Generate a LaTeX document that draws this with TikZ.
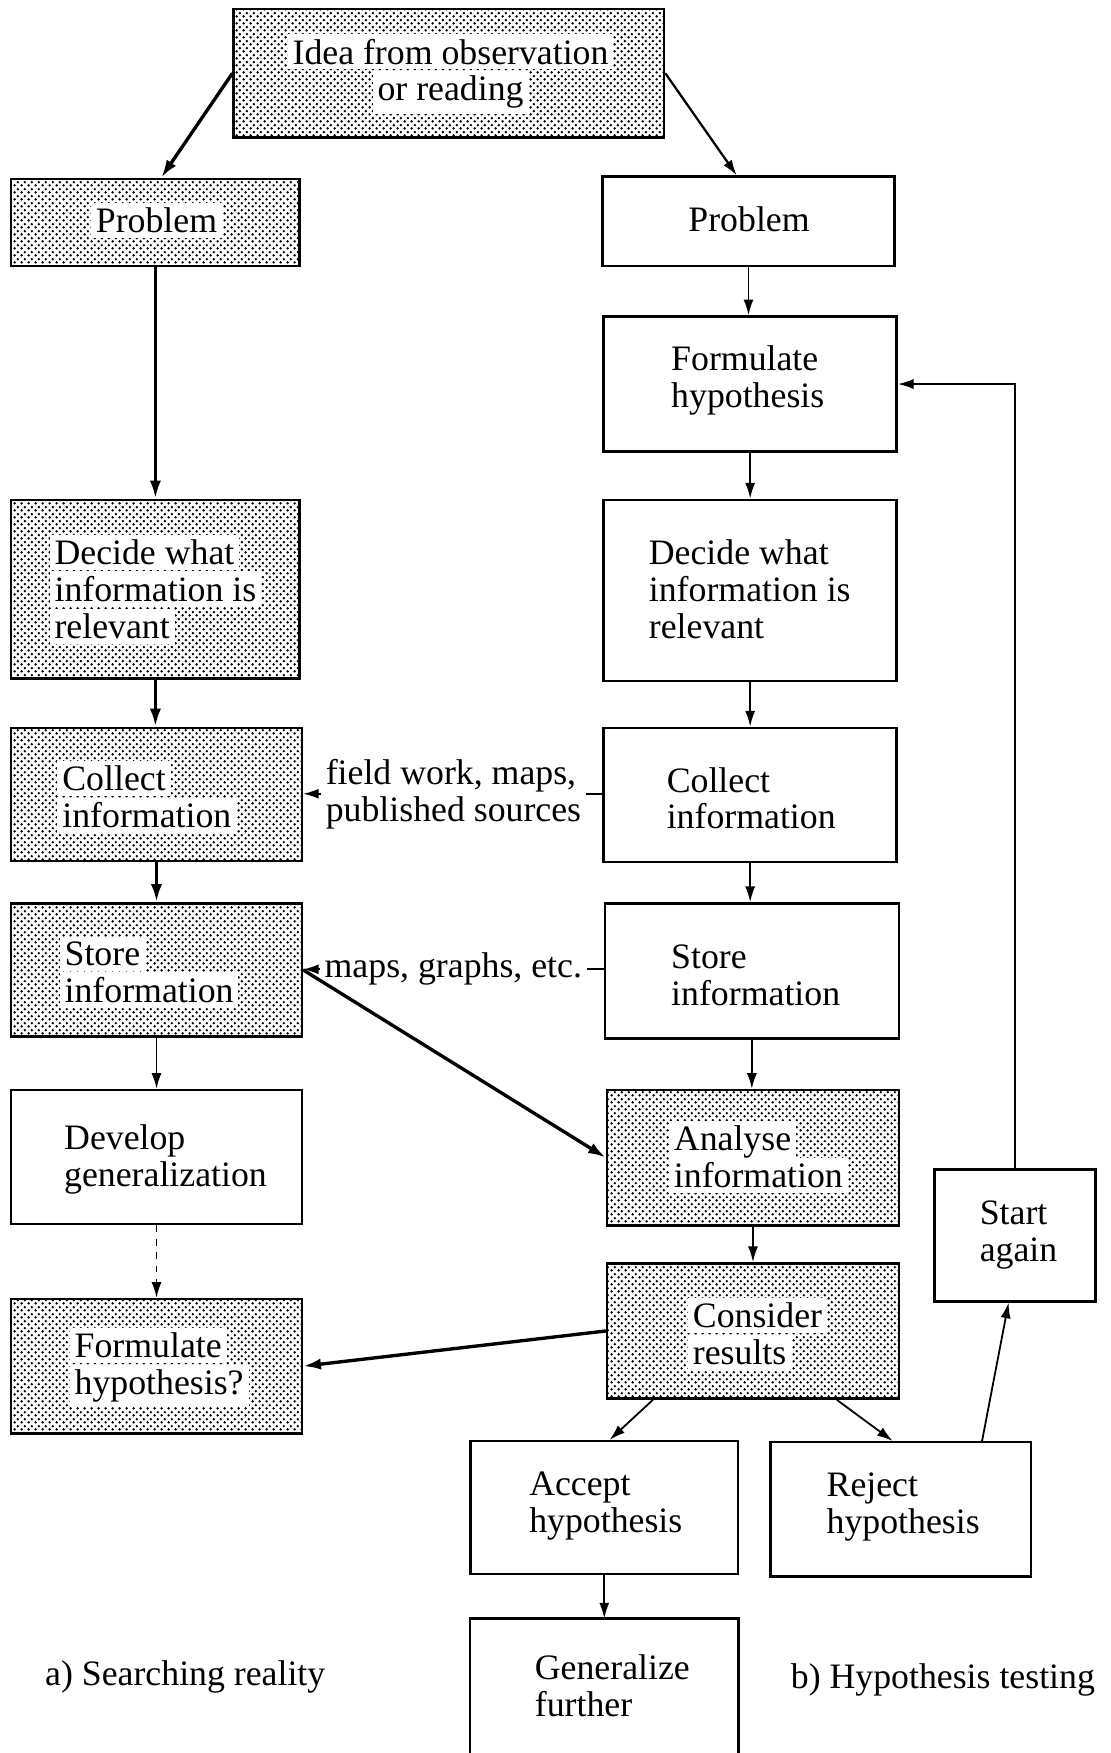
\documentclass[tikz,border=0pt]{standalone}
\usepackage{fontspec}
\setmainfont{Liberation Serif}
\usetikzlibrary{fit,calc,arrows.meta,patterns.meta}

\pgfdeclarepattern{
  name=refdots,
  type=uncolored,
  bottom left={\pgfpoint{0pt}{0pt}},
  top right={\pgfpoint{3pt}{3pt}},
  tile size={\pgfpoint{3pt}{3pt}},
  code={
    \pgfpathcircle{\pgfpoint{0.75pt}{0.75pt}}{0.62pt}
    \pgfpathcircle{\pgfpoint{2.25pt}{2.25pt}}{0.62pt}
    \pgfusepath{fill}
  }
}

\newcommand\bodyfont{\fontsize{16}{16.5}\selectfont\lineskiplimit=-20pt\relax}
\newcommand\wb[1]{{\setlength{\fboxsep}{2.2pt}\colorbox{white}{#1}}}

\begin{document}
\begin{tikzpicture}[x=0.5pt,y=-0.5pt,
  box/.style={draw, line width=1.1pt, inner sep=0pt},
  shaded/.style={box, pattern=refdots, pattern color=black},
  txt/.style={font=\bodyfont, align=left, inner sep=0pt, anchor=west},
  lbl/.style={font=\bodyfont, align=left, inner sep=2pt, anchor=west},
  arr/.style={-{Latex[length=7pt,width=4.5pt]}, line width=0.8pt},
  tarr/.style={-{Latex[length=8pt,width=5pt]}, line width=1.5pt},
]
\useasboundingbox[fill=white] (0,0) rectangle (993,1568);

% boxes
\node[shaded, fit={(209,8) (594,123)}] (idea) {};
\node[shaded, fit={(10,160) (268,238)}] (probL) {};
\node[box, fit={(539,158) (800,238)}] (probR) {};
\node[box, fit={(540,283) (802,404)}] (formR) {};
\node[shaded, fit={(10,447) (268,607)}] (decL) {};
\node[box, fit={(540,447) (802,609)}] (decR) {};
\node[shaded, fit={(10,651) (270,770)}] (colL) {};
\node[box, fit={(540,651) (802,771)}] (colR) {};
\node[shaded, fit={(10,808) (270,927)}] (stoL) {};
\node[box, fit={(541,808) (804,929)}] (stoR) {};
\node[box, fit={(10,975) (270,1095)}] (dev) {};
\node[shaded, fit={(543,975) (804,1096)}] (ana) {};
\node[box, fit={(836,1046) (980,1164)}] (start) {};
\node[shaded, fit={(10,1162) (270,1282)}] (formL) {};
\node[shaded, fit={(543,1130) (804,1251)}] (cons) {};
\node[box, fit={(421,1289) (660,1408)}] (acc) {};
\node[box, fit={(689,1290) (922,1410)}] (rej) {};
\node[inner sep=0pt, fit={(421,1448) (660,1568)}] (gen) {};
\draw[line width=1.1pt] (gen.south west) -- (gen.north west) -- (gen.north east) -- (gen.south east);

% texts
\node[txt, anchor=center, align=center] (ideaT) at (403,66) {\wb{Idea from observation}\\\wb{or reading}};
\node[txt, anchor=center] (probLT) at (140,197) {\wb{Problem}};
\node[txt, anchor=center] (probRT) at (670,196) {Problem};
\node[txt] (formRT) at (600,340) {Formulate\\hypothesis};
\node[txt] (decLT) at (44,527) {\wb{Decide what}\\\wb{information is}\\\wb{relevant}};
\node[txt] (decRT) at (580,527) {Decide what\\information is\\relevant};
\node[txt] (colLT) at (51,713) {\wb{Collect}\\\wb{information}};
\node[txt] (colRT) at (596,714) {Collect\\information};
\node[txt] (stoLT) at (53,870) {\wb{Store}\\\wb{information}};
\node[txt] (stoRT) at (600,872) {Store\\information};
\node[txt] (devT) at (57,1037) {Develop\\generalization};
\node[txt] (anaT) at (598,1035) {\wb{Analyse}\\\wb{information}};
\node[txt] (startT) at (876,1105) {Start\\again};
\node[txt] (formLT) at (62,1223) {\wb{Formulate}\\\wb{hypothesis?}};
\node[txt] (consT) at (615,1193) {\wb{Consider}\\\wb{results}};
\node[txt] (accT) at (473,1347) {Accept\\hypothesis};
\node[txt] (rejT) at (739,1348) {Reject\\hypothesis};
\node[txt] (genT) at (478,1508) {Generalize\\further};

\node[lbl] (src) at (287,710) {field work, maps,\\published sources};
\node[lbl] (mg) at (286,867) {maps, graphs, etc.};

\node[txt] (capA) at (40,1500) {a) Searching reality};
\node[txt] (capB) at (707,1503) {b) Hypothesis testing};

% connectors, left column
\draw[tarr] (idea.west) -- ($(probL.north west)!0.52!(probL.north east)$);
\draw[tarr] (probL.south) -- (probL.south |- decL.north);
\draw[tarr] (decL.south) -- (decL.south |- colL.north);
\draw[tarr] (colL.south) -- (colL.south |- stoL.north);
\draw[arr] (stoL.south) -- (stoL.south |- dev.north);
\draw[arr, dashed] (dev.south) -- (dev.south |- formL.north);
\draw[tarr] (stoL.east) -- (ana.west);
\draw[tarr] (cons.west) -- (formL.east);

% connectors, right column
\draw[arr, line width=1pt] (idea.east) -- ($(probR.north west)!0.46!(probR.north east)$);
\draw[arr] (probR.south) -- (probR.south |- formR.north);
\draw[arr] (formR.south) -- (formR.south |- decR.north);
\draw[arr] (decR.south) -- (decR.south |- colR.north);
\draw[arr] (colR.south) -- (colR.south |- stoR.north);
\draw[arr] (stoR.south) -- (stoR.south |- ana.north);
\draw[arr] (ana.south) -- (ana.south |- cons.north);
\draw[arr] ($(cons.south west)!0.16!(cons.south east)$) -- ($(acc.north west)!0.52!(acc.north east)$);
\draw[arr] ($(cons.south west)!0.785!(cons.south east)$) -- ($(rej.north west)!0.47!(rej.north east)$);
\draw[arr] ($(rej.north west)!0.81!(rej.north east)$) -- ($(start.south west)!0.46!(start.south east)$);
\draw[arr] (start.north) |- (formR.east);
\draw[arr] (acc.south) -- (gen.north);

% side labels
\draw[arr] (src.west) -- (src.west -| colL.east);
\draw[line width=0.8pt] (src.east) -- (src.east -| colR.west);
\draw[arr] (mg.west) -- (mg.west -| stoL.east);
\draw[line width=0.8pt] (mg.east) -- (mg.east -| stoR.west);
\end{tikzpicture}
\end{document}
